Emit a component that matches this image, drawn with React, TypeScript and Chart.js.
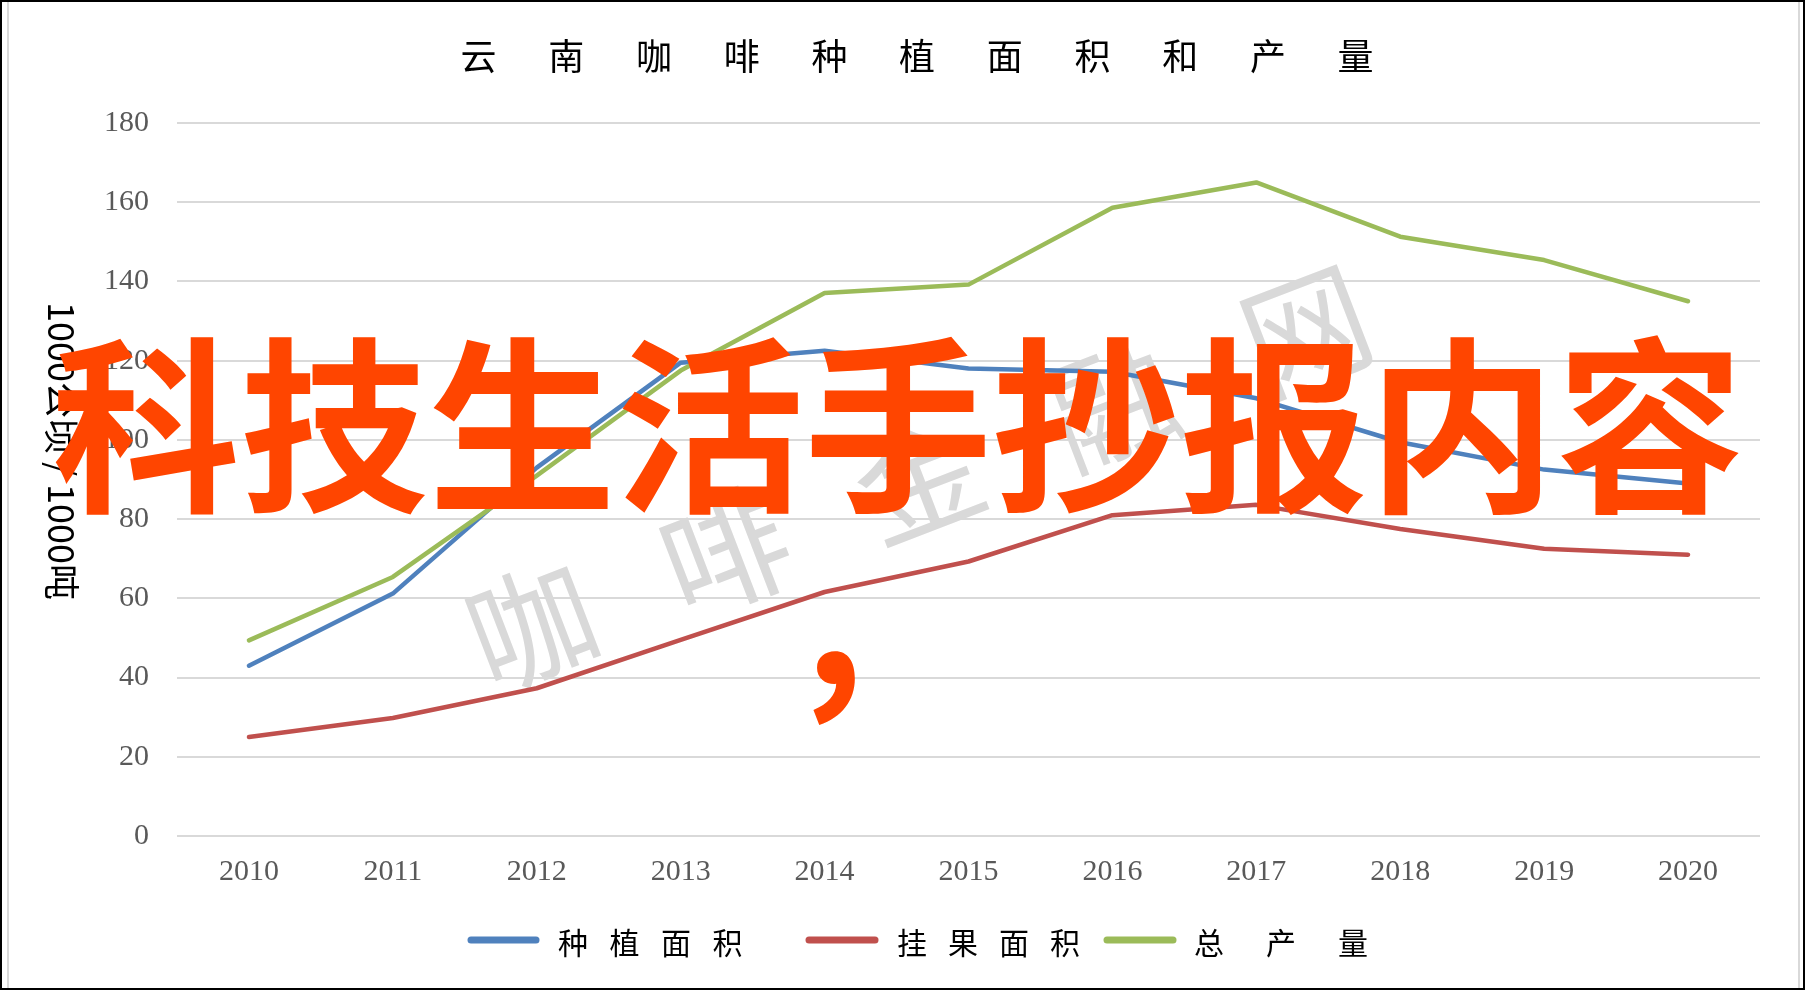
import { useEffect, useRef } from 'react';
import { Chart, registerables } from 'chart.js';

Chart.register(...registerables);

// ---- data ----
const years = ['2010', '2011', '2012', '2013', '2014', '2015', '2016', '2017', '2018', '2019', '2020'];
const plantingArea = [43, 61.2, 93, 119.5, 122.5, 118, 117.2, 110.5, 99.4, 92.5, 89];
const bearingArea = [25, 29.8, 37.3, 49.5, 61.6, 69.3, 81, 83.6, 77.5, 72.5, 71];
const totalOutput = [49.4, 65.4, 91, 117.5, 137.1, 139.2, 158.6, 165, 151.3, 145.4, 135];
const seriesNames = ['种植面积', '挂果面积', '总产量'];
const seriesColors = ['#4F81BD', '#C0504D', '#9BBB59'];
const chartTitle = '云南咖啡种植面积和产量';
const yAxisTitle = '1000公顷 / 1000吨';
const yMin = 0;
const yMax = 180;
const yStep = 20;
const overlayText = '科技生活手抄报内容';
const overlayComma = ',';
const watermarkText = '咖啡金融网';

const CJK = '"Noto Sans CJK SC", "Noto Sans CJK TC", sans-serif';
const SERIF = '"Liberation Serif", "DejaVu Serif", serif';

const framePlugin = {
  id: 'frame',
  beforeDraw(chart: any) {
    const ctx = chart.ctx;
    const w = chart.width;
    const h = chart.height;
    ctx.save();
    ctx.fillStyle = '#000000';
    ctx.fillRect(0, 0, w, h);
    ctx.fillStyle = '#ffffff';
    ctx.fillRect(2, 2, w - 4, h - 4);
    ctx.strokeStyle = '#d9d9d9';
    ctx.lineWidth = 2;
    ctx.beginPath();
    ctx.moveTo(8, 2);
    ctx.lineTo(8, h - 2);
    ctx.moveTo(w - 6, 2);
    ctx.lineTo(w - 6, h - 2);
    ctx.stroke();

    // title, evenly spaced characters
    ctx.fillStyle = '#000000';
    ctx.font = `36px ${CJK}`;
    ctx.textAlign = 'center';
    ctx.textBaseline = 'alphabetic';
    const tChars = Array.from(chartTitle);
    tChars.forEach((c, i) => {
      ctx.fillText(c, 478.6 + i * 87.7, 70);
    });

    // y axis title, rotated clockwise
    ctx.save();
    ctx.translate(48, 451);
    ctx.rotate(Math.PI / 2);
    ctx.font = `36px ${CJK}`;
    ctx.textAlign = 'center';
    ctx.textBaseline = 'alphabetic';
    ctx.fillText(yAxisTitle, 0, 0);
    ctx.restore();

    // legend
    const items = [
      { x1: 468, x2: 539, tx: 558, pitch: 51.5 },
      { x1: 806, x2: 878, tx: 897, pitch: 51 },
      { x1: 1104, x2: 1176, tx: 1194, pitch: 72 },
    ];
    items.forEach((it, i) => {
      ctx.strokeStyle = seriesColors[i];
      ctx.lineWidth = 7;
      ctx.lineCap = 'round';
      ctx.beginPath();
      ctx.moveTo(it.x1 + 3, 940);
      ctx.lineTo(it.x2 - 3, 940);
      ctx.stroke();
      ctx.fillStyle = '#000000';
      ctx.font = `30px ${CJK}`;
      ctx.textAlign = 'center';
      Array.from(seriesNames[i]).forEach((c, j) => {
        ctx.fillText(c, it.tx + 15 + j * it.pitch, 954);
      });
    });
    ctx.restore();
  },
  beforeDatasetsDraw(chart: any) {
    const ctx = chart.ctx;
    ctx.save();
    ctx.fillStyle = '#d9d9d9';
    ctx.font = `126px ${CJK}`;
    ctx.textAlign = 'center';
    ctx.textBaseline = 'middle';
    const chars = Array.from(watermarkText);
    const angle = -21 * Math.PI / 180;
    chars.forEach((c, i) => {
      ctx.save();
      ctx.translate(532 + i * 193.5, 626 - i * 74);
      ctx.rotate(angle);
      ctx.fillText(c, 0, 0);
      ctx.restore();
    });
    ctx.restore();
  },
  afterDraw(chart: any) {
    const ctx = chart.ctx;
    ctx.save();
    ctx.fillStyle = '#FF4500';
    ctx.font = `bold 188px ${CJK}`;
    ctx.textAlign = 'center';
    ctx.textBaseline = 'alphabetic';
    ctx.fillText(overlayText, 898, 497);
    ctx.fillText(overlayComma, 834, 685);
    ctx.restore();
  },
};

export default function App() {
  const canvasRef = useRef<HTMLCanvasElement | null>(null);

  useEffect(() => {
    const canvas = canvasRef.current;
    if (!canvas) return;
    const chart = new Chart(canvas, {
      type: 'line',
      data: {
        labels: years,
        datasets: [
          { label: seriesNames[0], data: plantingArea, borderColor: seriesColors[0], backgroundColor: seriesColors[0], order: 2 },
          { label: seriesNames[1], data: bearingArea, borderColor: seriesColors[1], backgroundColor: seriesColors[1], order: 1 },
          { label: seriesNames[2], data: totalOutput, borderColor: seriesColors[2], backgroundColor: seriesColors[2], order: 0 },
        ].map((d) => ({
          ...d,
          borderWidth: 4.5,
          pointRadius: 0,
          pointHoverRadius: 0,
          tension: 0,
          fill: false,
          borderCapStyle: 'round' as const,
          borderJoinStyle: 'round' as const,
        })),
      },
      options: {
        responsive: false,
        animation: false,
        devicePixelRatio: 1,
        layout: { padding: { top: 123, left: 7, right: 45, bottom: 94 } },
        plugins: {
          legend: { display: false },
          title: { display: false },
          tooltip: { enabled: false },
        },
        scales: {
          x: {
            type: 'category',
            offset: true,
            grid: { display: false, drawTicks: false },
            border: { display: false },
            ticks: {
              color: '#595959',
              font: { family: SERIF, size: 30 },
              padding: 18,
              maxRotation: 0,
              autoSkip: false,
            },
            afterFit: (scale: any) => {
              scale.height = 60;
            },
          },
          y: {
            min: yMin,
            max: yMax,
            grid: { color: '#d9d9d9', lineWidth: 2, drawTicks: false },
            border: { display: false },
            ticks: {
              stepSize: yStep,
              color: '#595959',
              font: { family: SERIF, size: 30 },
              padding: 28,
            },
            afterFit: (scale: any) => {
              scale.width = 170;
            },
          },
        },
      },
      plugins: [framePlugin],
    } as any);
    return () => {
      chart.destroy();
    };
  }, []);

  return (
    <div style={{ position: 'fixed', left: 0, top: 0, width: 1805, height: 990 }}>
      <canvas ref={canvasRef} width={1805} height={990} style={{ width: 1805, height: 990, display: 'block' }} />
    </div>
  );
}
